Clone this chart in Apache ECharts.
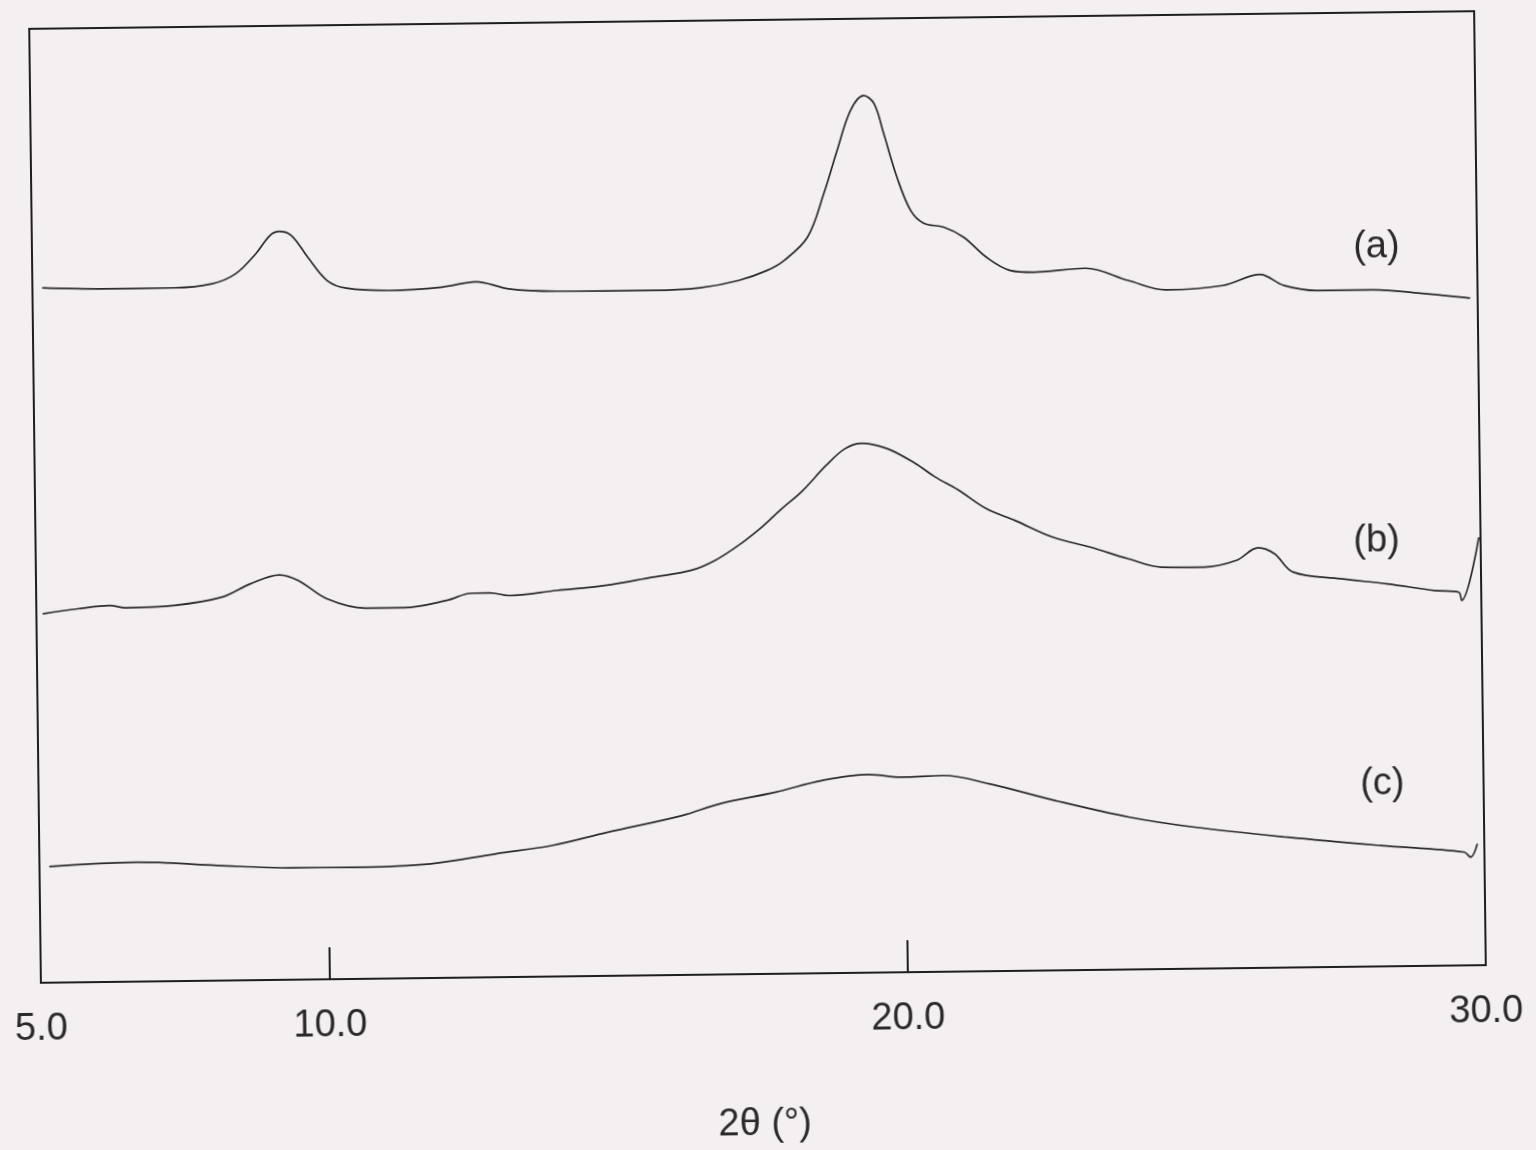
<!DOCTYPE html>
<html>
<head>
<meta charset="utf-8">
<title>XRD patterns</title>
<script src="https://cdn.jsdelivr.net/npm/echarts@6/dist/echarts.min.js"></script>
<style>
  html, body { margin: 0; padding: 0; background: #f4eff1; }
  #chart {
    width: 1536px;
    height: 1150px;
    /* the scanned figure sits slightly askew */
    transform-origin: 757px 496px;
    transform: rotate(-0.7deg);
  }
</style>
</head>
<body>
<div id="chart"></div>
<script>
// 2θ positions (deg) and intensities (arbitrary, stacked with offsets)
var thetaA = [5.17, 6.21, 7.45, 8.11, 8.52, 8.87, 9.12, 9.28, 9.49, 9.77, 10.10, 10.43, 11.17, 12.08, 12.67, 13.24, 14.07, 15.73, 16.55, 17.22, 17.71, 18.01, 18.42, 18.71, 18.95, 19.19, 19.42, 19.60, 19.76, 19.98, 20.21, 20.43, 20.78, 21.12, 21.51, 21.92, 22.33, 23.22, 23.96, 24.61, 25.59, 26.24, 26.65, 27.22, 28.20, 29.01, 29.87];
var intA   = [72.84, 72.66, 72.67, 73.05, 74.07, 76.13, 78.03, 78.44, 78.01, 75.71, 73.24, 72.41, 72.12, 72.40, 72.92, 72.14, 71.83, 71.78, 72.00, 72.72, 73.73, 74.76, 77.17, 81.70, 86.22, 90.40, 91.95, 91.07, 87.91, 83.34, 79.83, 78.49, 78.04, 76.97, 74.84, 73.42, 73.21, 73.56, 72.22, 71.19, 71.57, 72.68, 71.50, 70.93, 70.93, 70.51, 69.93];

var thetaB = [5.11, 5.72, 6.27, 6.55, 7.38, 8.21, 8.71, 9.21, 9.54, 10.03, 10.69, 11.36, 12.10, 12.52, 12.85, 13.18, 14.01, 14.84, 15.67, 16.33, 16.75, 17.16, 17.58, 17.89, 18.28, 18.69, 19.02, 19.31, 19.76, 20.24, 20.57, 20.97, 21.46, 21.95, 22.60, 23.25, 23.90, 24.47, 25.20, 25.77, 26.15, 26.43, 26.75, 27.57, 28.38, 29.20, 29.61, 29.66, 29.97];
var intB   = [38.67, 39.15, 39.45, 39.19, 39.37, 40.18, 41.55, 42.45, 41.83, 39.88, 38.85, 38.84, 39.55, 40.28, 40.30, 39.99, 40.46, 40.92, 41.73, 42.38, 43.40, 44.95, 46.90, 48.60, 50.60, 53.20, 54.94, 55.50, 54.89, 53.30, 51.90, 50.50, 48.47, 47.21, 45.41, 44.31, 43.05, 42.13, 42.08, 42.74, 44.04, 43.39, 41.44, 40.68, 40.09, 39.33, 39.13, 38.25, 44.86];

var thetaC = [5.17, 6.70, 8.07, 9.35, 10.48, 11.77, 12.90, 13.87, 14.84, 16.13, 16.78, 17.75, 18.55, 19.36, 19.93, 20.65, 21.45, 22.58, 23.87, 24.99, 26.60, 28.21, 29.65, 29.76, 29.88];
var intC   = [12.18, 12.52, 12.07, 11.73, 11.71, 11.97, 12.94, 13.73, 15.05, 16.71, 17.89, 19.04, 20.20, 20.77, 20.45, 20.57, 19.64, 17.81, 15.96, 14.83, 13.66, 12.67, 11.87, 11.33, 12.73];

var tickValues  = [10, 20];
var labelValues = [5, 10, 20, 30];
var curveNames  = ['(a)', '(b)', '(c)'];
var namePosTheta = [28.26, 28.20, 28.25];
var namePosInt   = [75.39, 44.65, 19.14];

function zip(xs, ys) {
  return xs.map(function (x, i) { return [x, ys[i]]; });
}

var font = 'Liberation Sans, Arial, Helvetica, sans-serif';
var ink = '#2b2b2b';
var curves = [zip(thetaA, intA), zip(thetaB, intB), zip(thetaC, intC)];

var series = curves.map(function (d, i) {
  return {
    name: curveNames[i],
    type: 'line',
    data: d,
    showSymbol: false,
    smooth: 0.35,
    lineStyle: { color: ink, width: 1.7 },
    silent: true,
    markPoint: {
      symbol: 'circle',
      symbolSize: 0,
      data: [{ coord: [namePosTheta[i], namePosInt[i]] }],
      label: {
        show: true,
        position: 'inside',
        formatter: curveNames[i],
        color: '#2a2a2a',
        fontFamily: font,
        fontSize: 38
      }
    }
  };
});

var myChart = echarts.init(document.getElementById('chart'));
myChart.setOption({
  backgroundColor: '#f4eff1',
  animation: false,
  grid: {
    show: true,
    left: 35,
    top: 20,
    width: 1445,
    height: 954,
    borderColor: '#1e1e1e',
    borderWidth: 2,
    backgroundColor: 'transparent'
  },
  xAxis: {
    type: 'value',
    min: 5,
    max: 30,
    name: '2θ (°)',
    nameLocation: 'middle',
    nameGap: 132,
    nameTextStyle: { color: '#2a2a2a', fontFamily: font, fontSize: 38 },
    axisLine: { show: false },
    splitLine: { show: false },
    axisTick: {
      show: true,
      inside: true,
      length: 32,
      customValues: tickValues,
      lineStyle: { color: '#1e1e1e', width: 2 }
    },
    axisLabel: {
      customValues: labelValues,
      showMinLabel: true,
      showMaxLabel: true,
      margin: 28,
      color: '#2a2a2a',
      fontFamily: font,
      fontSize: 38,
      formatter: function (v) { return v.toFixed(1); }
    }
  },
  yAxis: {
    type: 'value',
    min: 0,
    max: 100,
    show: false,
    splitLine: { show: false }
  },
  series: series
});
</script>
</body>
</html>
